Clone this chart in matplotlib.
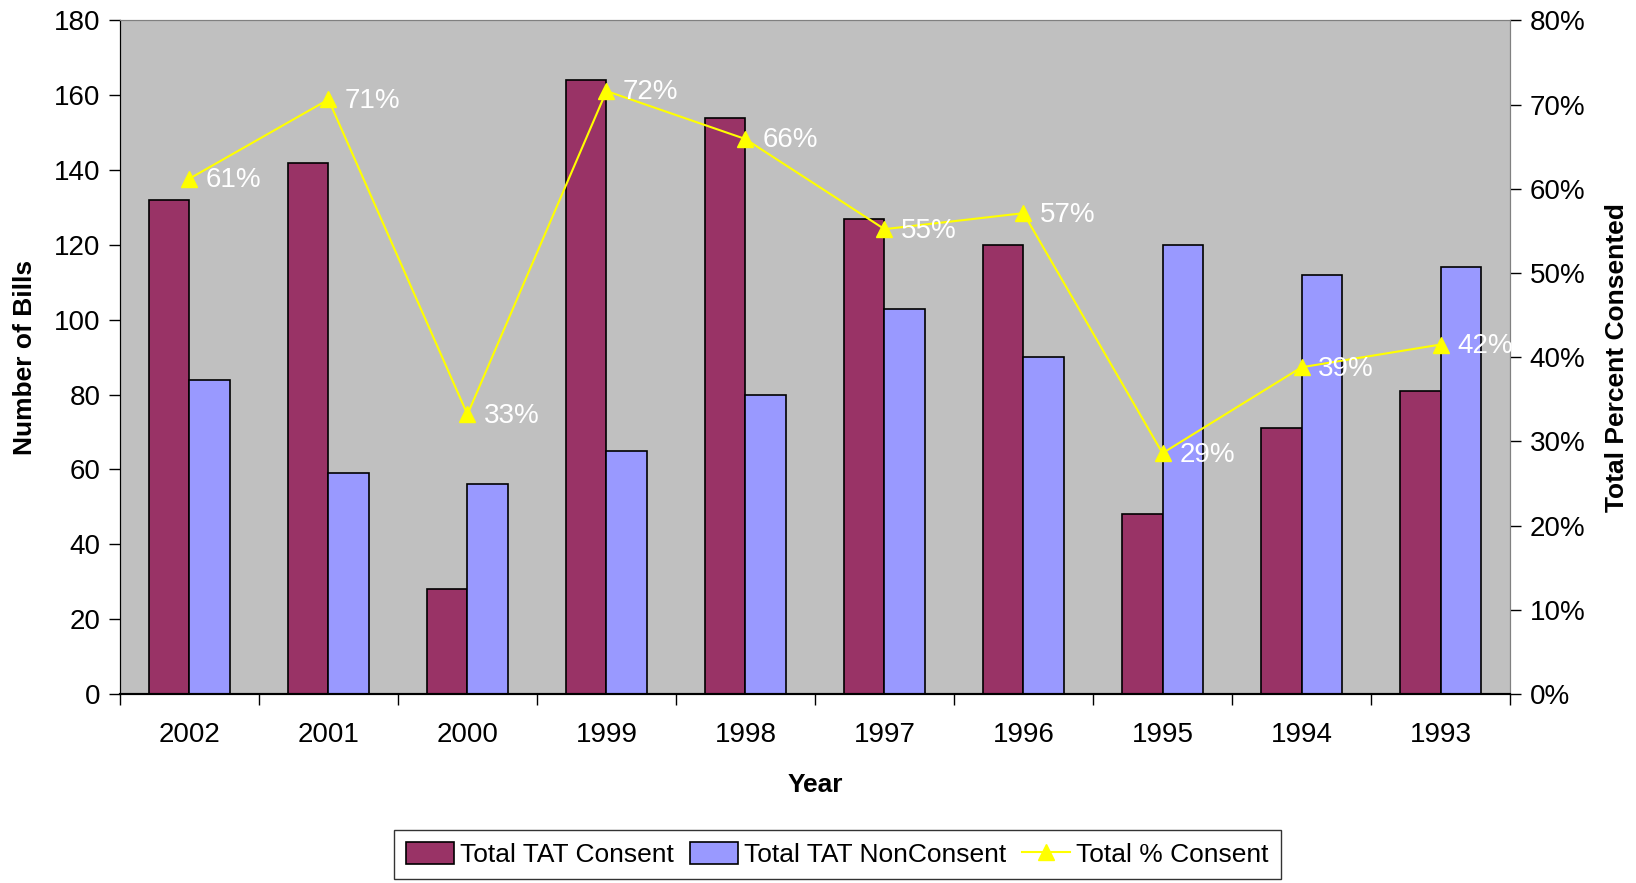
import matplotlib
matplotlib.use("Agg")
import matplotlib.pyplot as plt
import numpy as np

years = ["2002", "2001", "2000", "1999", "1998", "1997", "1996", "1995", "1994", "1993"]
consent = [132, 142, 28, 164, 154, 127, 120, 48, 71, 81]
non_consent = [84, 59, 56, 65, 80, 103, 90, 120, 112, 114]
pct_consent = [61.2, 70.6, 33.2, 71.6, 65.9, 55.2, 57.1, 28.6, 38.8, 41.5]
pct_labels = ["61%", "71%", "33%", "72%", "66%", "55%", "57%", "29%", "39%", "42%"]

plt.rcParams['font.family'] = ['Liberation Sans', 'DejaVu Sans']

fig = plt.figure(figsize=(16.36, 8.83), dpi=100)
ax = fig.add_axes([0.0733, 0.214, 0.8497, 0.763])
ax2 = ax.twinx()

x = np.arange(len(years))
width = 0.29

b1 = ax.bar(x - width / 2, consent, width, color='#993366', edgecolor='black',
            linewidth=1.2, label='Total TAT Consent', zorder=2)
b2 = ax.bar(x + width / 2, non_consent, width, color='#9999FF', edgecolor='black',
            linewidth=1.2, label='Total TAT NonConsent', zorder=2)

ln, = ax2.plot(x, pct_consent, color='#FFFF00', marker='^', markersize=11,
               linewidth=1.5, label='Total % Consent')
for xi, yi, lab in zip(x, pct_consent, pct_labels):
    ax2.annotate(lab, xy=(xi, yi), xytext=(12, -1), textcoords='offset points',
                 ha='left', va='center', color='white', fontsize=20)

ax.set_facecolor('#C0C0C0')
ax.set_xlim(-0.5, len(years) - 0.5)
ax.set_ylim(0, 180)
ax.set_yticks(range(0, 181, 20))
ax2.set_ylim(0, 80)
ax2.set_yticks(range(0, 81, 10))
ax2.set_yticklabels([f"{v}%" for v in range(0, 81, 10)])

ax.set_xticks(x)
ax.set_xticklabels(years)
ax.set_xticks(np.arange(-0.5, len(years), 1), minor=True)
ax.tick_params(axis='x', which='major', length=0, pad=20, labelsize=20)
ax.tick_params(axis='x', which='minor', length=8, direction='out', width=1)
ax.tick_params(axis='y', labelsize=20, length=8, width=1, pad=6)
ax2.tick_params(axis='y', labelsize=20, length=8, width=1, pad=6)

for a in (ax, ax2):
    a.spines['top'].set_color('#808080')
    a.spines['right'].set_color('#808080')
    a.spines['left'].set_color('black')
    a.spines['bottom'].set_color('black')
    a.spines['bottom'].set_linewidth(1.5)

ax.set_ylabel('Number of Bills', fontsize=19, fontweight='bold', labelpad=12)
ax.set_xlabel('Year', fontsize=19, fontweight='bold', labelpad=18)
ax2.set_ylabel('Total Percent Consented', fontsize=19, fontweight='bold', labelpad=14)

leg = fig.legend(handles=[b1, b2, ln], loc='lower center', bbox_to_anchor=(0.512, 0.0),
                 ncol=3, fontsize=19, frameon=True, fancybox=False, edgecolor='black',
                 handlelength=1.8, handleheight=0.9, handletextpad=0.25, columnspacing=0.6,
                 borderpad=0.45, borderaxespad=0.15)
leg.get_frame().set_linewidth(1)

fig.savefig('out.png', dpi=100)
